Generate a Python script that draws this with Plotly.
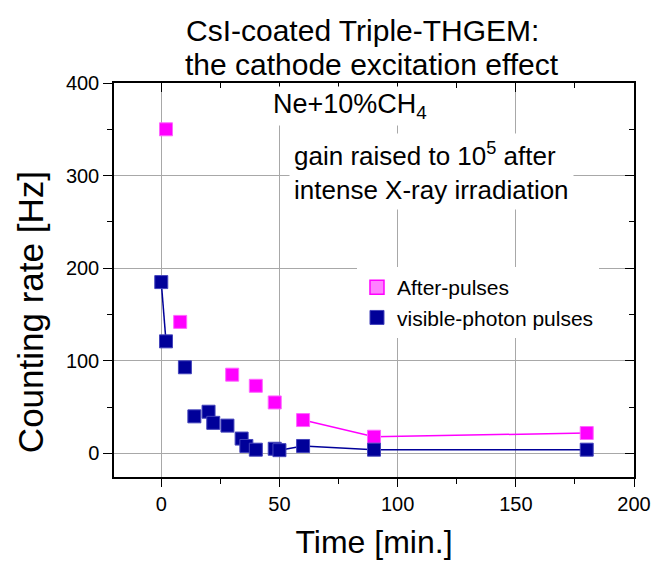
import plotly.graph_objects as go

# ---- data ----
after_t = [2, 8, 30, 40, 48, 60, 90, 180]
after_v = [350, 142, 85, 73, 55, 36, 18, 22]

vis_t = [0, 2, 10, 14, 20, 22, 28, 34, 36, 40, 48, 50, 60, 90, 180]
vis_v = [185, 121, 93, 40, 45, 33, 30, 16, 8, 4, 5, 3.5, 8, 4, 4]

# connecting-line segments drawn in the original (None = gap)
after_line_t = [60, 90, 180]
after_line_v = [36, 18, 22]
vis_line_t = [0, 2, None, 50, 60, 90, 180]
vis_line_v = [185, 121, None, 3.5, 8, 4, 4]

x_ticks = [0, 50, 100, 150, 200]
y_ticks = [0, 100, 200, 300, 400]

PINK = "#FF00FF"
NAVY = "#000099"
FONT = "Arial, Liberation Sans, sans-serif"

fig = go.Figure()

fig.add_trace(go.Scatter(x=after_line_t, y=after_line_v, mode="lines",
                         line=dict(color=PINK, width=1.5), showlegend=False,
                         hoverinfo="skip"))
fig.add_trace(go.Scatter(x=vis_line_t, y=vis_line_v, mode="lines",
                         line=dict(color=NAVY, width=1.5), showlegend=False,
                         hoverinfo="skip", connectgaps=False))
fig.add_trace(go.Scatter(x=after_t, y=after_v, mode="markers", name="After-pulses",
                         marker=dict(symbol="square", size=13, color=PINK,
                                     line=dict(color="#FF66FF", width=1)),
                         showlegend=False))
fig.add_trace(go.Scatter(x=vis_t, y=vis_v, mode="markers", name="visible-photon pulses",
                         marker=dict(symbol="square", size=13, color=NAVY,
                                     line=dict(color="#4444BB", width=1)),
                         showlegend=False))
# legend entries
fig.add_trace(go.Scatter(x=[None], y=[None], mode="markers", name="After-pulses",
                         marker=dict(symbol="square", size=14, color="#FF80FF",
                                     line=dict(color=PINK, width=1.5))))
fig.add_trace(go.Scatter(x=[None], y=[None], mode="markers", name="visible-photon pulses",
                         marker=dict(symbol="square", size=14, color=NAVY,
                                     line=dict(color="#4444BB", width=1))))
# empty trace that carries the top/right (inward-tick) axes
fig.add_trace(go.Scatter(x=[None], y=[None], xaxis="x2", yaxis="y2", mode="markers",
                         showlegend=False, hoverinfo="skip"))

axis_common = dict(showline=True, linecolor="black", linewidth=1.5,
                   tickcolor="black", tickwidth=1.2, zeroline=False, automargin=False,
                   tickfont=dict(family=FONT, size=20, color="black"))

fig.update_layout(
    width=652, height=562,
    margin=dict(l=114, r=18, t=83, b=85),
    paper_bgcolor="white", plot_bgcolor="white",
    font=dict(family=FONT, color="black"),
    xaxis=dict(range=[-20, 200], tickvals=x_ticks, ticks="outside", ticklen=8,
               showgrid=True, gridcolor="#A8A8A8", gridwidth=1,
               minor=dict(ticks="outside", ticklen=5, dtick=25, tick0=0,
                          tickcolor="black", showgrid=False),
               title=dict(text="Time [min.]", font=dict(family=FONT, size=32),
                          standoff=17),
               **axis_common),
    yaxis=dict(range=[-25.5, 400], tickvals=y_ticks, ticks="outside", ticklen=9,
               showgrid=True, gridcolor="#A8A8A8", gridwidth=1,
               minor=dict(ticks="outside", ticklen=5, dtick=50, tick0=0,
                          tickcolor="black", showgrid=False),
               **axis_common),
    xaxis2=dict(range=[-20, 200], overlaying="x", side="top", anchor="y",
                tickvals=x_ticks, ticks="inside", ticklen=9, showticklabels=False,
                showgrid=False, zeroline=False, showline=True, linecolor="black",
                linewidth=1.5, tickcolor="black", tickwidth=1.2, automargin=False,
                minor=dict(ticks="inside", ticklen=5, dtick=25, tick0=0,
                           tickcolor="black", showgrid=False)),
    yaxis2=dict(range=[-25.5, 400], overlaying="y", side="right", anchor="x",
                tickvals=y_ticks, ticks="inside", ticklen=9, showticklabels=False,
                showgrid=False, zeroline=False, showline=True, linecolor="black",
                linewidth=1.5, tickcolor="black", tickwidth=1.2, automargin=False,
                minor=dict(ticks="inside", ticklen=5, dtick=50, tick0=0,
                           tickcolor="black", showgrid=False)),
    legend=dict(x=0.4673, y=0.533, xanchor="left", yanchor="top",
                bgcolor="white", borderwidth=0,
                font=dict(family=FONT, size=21, color="black"),
                tracegroupgap=0),
    showlegend=True,
)

annotations = [
    dict(text="CsI-coated Triple-THGEM:", x=0.477, y=1.1345, xref="paper", yref="paper",
         xanchor="center", yanchor="middle", showarrow=False,
         font=dict(family=FONT, size=30, color="black")),
    dict(text="the cathode excitation effect", x=0.496, y=1.0457, xref="paper", yref="paper",
         xanchor="center", yanchor="middle", showarrow=False,
         font=dict(family=FONT, size=30, color="black")),
    dict(text="Counting rate [Hz]", x=-0.1615, y=0.4185, xref="paper", yref="paper",
         xanchor="center", yanchor="middle", textangle=-90, showarrow=False,
         font=dict(family=FONT, size=35, color="black")),
    dict(text="Ne+10%CH<sub>4</sub>", x=0.3, y=0.942, xref="paper", yref="paper",
         xanchor="left", yanchor="middle", showarrow=False, bgcolor="white", borderpad=2,
         font=dict(family=FONT, size=27, color="black")),
    dict(text="gain raised to 10<sup>5</sup> after<br>intense X-ray irradiation",
         x=0.3365, y=0.7756, xref="paper", yref="paper", align="left",
         xanchor="left", yanchor="middle", showarrow=False, bgcolor="white", borderpad=4,
         font=dict(family=FONT, size=26, color="black")),
]
fig.update_layout(annotations=annotations)

fig.write_html("out.html", config={"displayModeBar": False},
               post_script="document.body.style.margin='0';document.body.style.overflow='hidden';")
